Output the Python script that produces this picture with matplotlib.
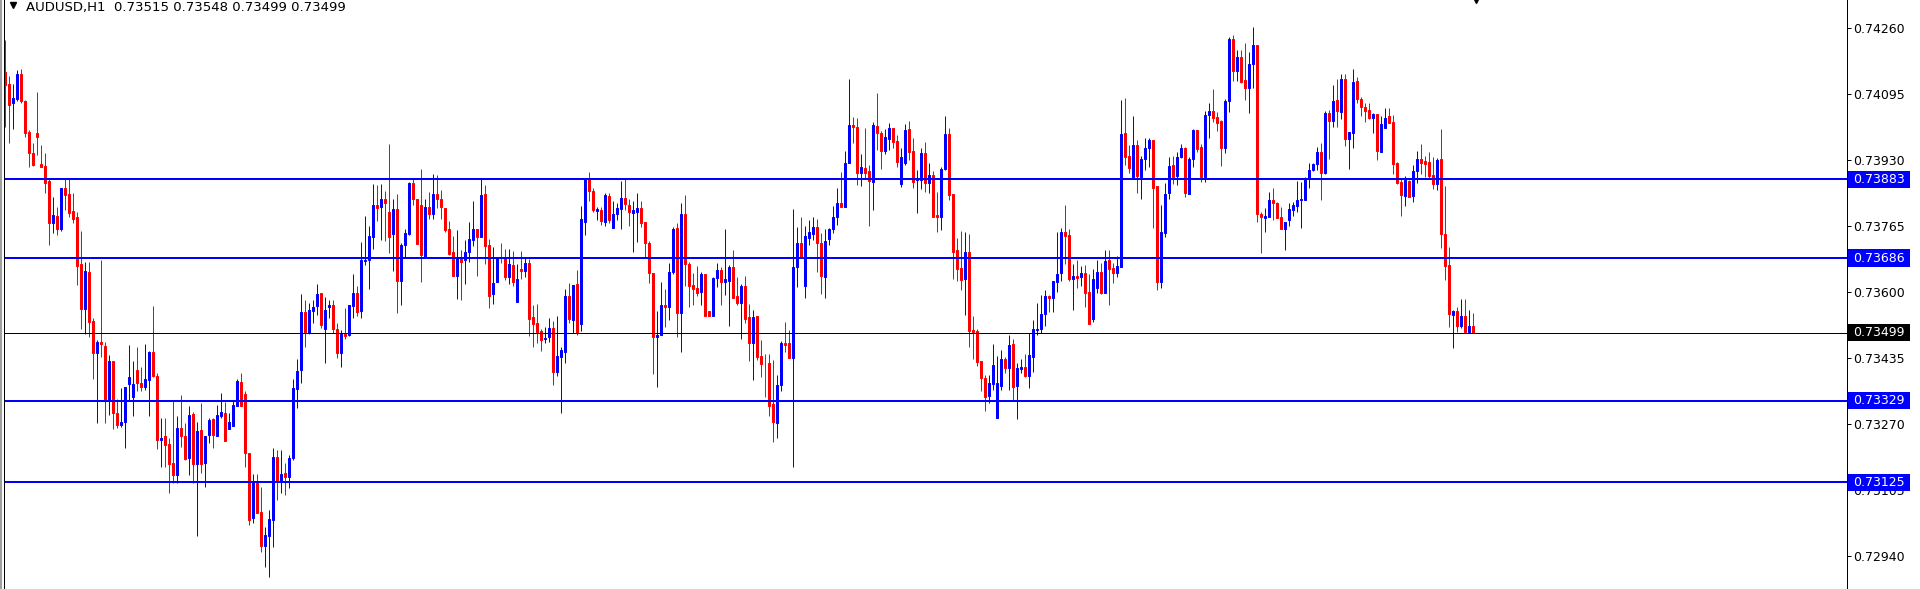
import numpy as np
import matplotlib
matplotlib.use('Agg')
import matplotlib.pyplot as plt
from matplotlib.lines import Line2D
from matplotlib.patches import Rectangle
from matplotlib.transforms import blended_transform_factory

symbol = 'AUDUSD,H1'

# hourly candles, oldest first
opens = [
    0.74151, 0.74121, 0.74074, 0.74084, 0.74146, 0.74079, 0.74001, 0.73949, 0.73999, 0.73921,
    0.73916, 0.73879, 0.73774, 0.73791, 0.73759, 0.73861, 0.73846, 0.73804, 0.73789, 0.73671,
    0.73559, 0.73651, 0.73529, 0.73449, 0.73476, 0.73466, 0.73329, 0.73429, 0.73299, 0.73269,
    0.73276, 0.73371, 0.73339, 0.73406, 0.73374, 0.73364, 0.73381, 0.73451, 0.73391, 0.73231,
    0.73241, 0.73221, 0.73174, 0.73144, 0.73261, 0.73241, 0.73186, 0.73296, 0.73171, 0.73256,
    0.73174, 0.73244, 0.73284, 0.73241, 0.73291, 0.73299, 0.73259, 0.73266, 0.73316, 0.73376,
    0.73346, 0.73199, 0.73036, 0.73126, 0.73051, 0.72966, 0.72991, 0.73031, 0.73189, 0.73126,
    0.73149, 0.73139, 0.73186, 0.73359, 0.73406, 0.73551, 0.73499, 0.73554, 0.73566, 0.73599,
    0.73509, 0.73564, 0.73569, 0.73509, 0.73449, 0.73496, 0.73494, 0.73566, 0.73599, 0.73554,
    0.73679, 0.73681, 0.73739, 0.73819, 0.73814, 0.73834, 0.73801, 0.73746, 0.73809, 0.73629,
    0.73719, 0.73746, 0.73874, 0.73834, 0.73819, 0.73689, 0.73814, 0.73796, 0.73846, 0.73834,
    0.73811, 0.73759, 0.73701, 0.73641, 0.73689, 0.73681, 0.73701, 0.73731, 0.73759, 0.73739,
    0.73846, 0.73719, 0.73596, 0.73626, 0.73687, 0.73689, 0.73639, 0.73669, 0.73576, 0.73659,
    0.73654, 0.73674, 0.73539, 0.73524, 0.73504, 0.73484, 0.73489, 0.73511, 0.73401, 0.73439,
    0.73451, 0.73591, 0.73531, 0.73621, 0.73521, 0.73776, 0.73886, 0.73854, 0.73804, 0.73806,
    0.73776, 0.73841, 0.73761, 0.73796, 0.73809, 0.73836, 0.73819, 0.73799, 0.73801, 0.73811,
    0.73776, 0.73724, 0.73649, 0.73489, 0.73494, 0.73569, 0.73564, 0.73651, 0.73761, 0.73549,
    0.73796, 0.73671, 0.73619, 0.73611, 0.73601, 0.73646, 0.73554, 0.73541, 0.73636, 0.73656,
    0.73626, 0.73629, 0.73664, 0.73591, 0.73574, 0.73616, 0.73539, 0.73474, 0.73541, 0.73441,
    0.73424, 0.73424, 0.73321, 0.73274, 0.73369, 0.73474, 0.73474, 0.73436, 0.73664, 0.73724,
    0.73616, 0.73736, 0.73746, 0.73764, 0.73724, 0.73639, 0.73734, 0.73759, 0.73789, 0.73824,
    0.73814, 0.73924, 0.74019, 0.74014, 0.73899, 0.73911, 0.73904, 0.73876, 0.74016, 0.73999,
    0.73954, 0.73984, 0.74011, 0.73979, 0.73871, 0.73924, 0.74009, 0.73954, 0.73881, 0.73881,
    0.73949, 0.73874, 0.73894, 0.73794, 0.73789, 0.73909, 0.73996, 0.73846, 0.73706, 0.73661,
    0.73634, 0.73701, 0.73506, 0.73504, 0.73429, 0.73386, 0.73341, 0.73371, 0.73286, 0.73366,
    0.73434, 0.73411, 0.73471, 0.73366, 0.73409, 0.73414, 0.73391, 0.73439, 0.73506, 0.73509,
    0.73546, 0.73591, 0.73586, 0.73626, 0.73649, 0.73751, 0.73744, 0.73634, 0.73641, 0.73639,
    0.73649, 0.73601, 0.73534, 0.73611, 0.73651, 0.73599, 0.73681, 0.73661, 0.73649, 0.73664,
    0.73999, 0.73941, 0.73889, 0.73969, 0.73889, 0.73934, 0.73961, 0.73981, 0.73866, 0.73626,
    0.73749, 0.73849, 0.73919, 0.73891, 0.73939, 0.73961, 0.73846, 0.73934, 0.74006, 0.73964,
    0.73889, 0.74044, 0.74054, 0.74039, 0.74029, 0.73961, 0.74079, 0.74234, 0.74154, 0.74189,
    0.74131, 0.74111, 0.74171, 0.74219, 0.73796, 0.73786, 0.73789, 0.73831, 0.73824, 0.73789,
    0.73759, 0.73781, 0.73806, 0.73816, 0.73831, 0.73831, 0.73886, 0.73906, 0.73921, 0.73951,
    0.73899, 0.74049, 0.74029, 0.74081, 0.74051, 0.74134, 0.73984, 0.73999, 0.74129, 0.74084,
    0.74064, 0.74056, 0.74036, 0.74046, 0.73951, 0.74011, 0.74041, 0.74026, 0.73924, 0.73876,
    0.73841, 0.73879, 0.73841, 0.73904, 0.73934, 0.73929, 0.73926, 0.73894, 0.73871, 0.73934,
    0.73746, 0.73669, 0.73544, 0.73554, 0.73516, 0.73541, 0.73501, 0.73515,
]
highs = [
    0.74231, 0.74141, 0.74121, 0.74156, 0.74159, 0.74081, 0.74006, 0.73974, 0.74101, 0.73969,
    0.73949, 0.73886, 0.73839, 0.73814, 0.73861, 0.73886, 0.73886, 0.73849, 0.73801, 0.73754,
    0.73676, 0.73676, 0.73536, 0.73481, 0.73681, 0.73476, 0.73444, 0.73429, 0.73334, 0.73361,
    0.73364, 0.73469, 0.73429, 0.73464, 0.73414, 0.73471, 0.73454, 0.73566, 0.73399, 0.73286,
    0.73286, 0.73236, 0.73331, 0.73291, 0.73344, 0.73274, 0.73316, 0.73301, 0.73276, 0.73324,
    0.73241, 0.73286, 0.73286, 0.73319, 0.73349, 0.73326, 0.73299, 0.73331, 0.73384, 0.73399,
    0.73354, 0.73199, 0.73146, 0.73146, 0.73114, 0.73014, 0.73056, 0.73211, 0.73206, 0.73206,
    0.73174, 0.73194, 0.73384, 0.73434, 0.73596, 0.73581, 0.73574, 0.73581, 0.73621, 0.73599,
    0.73589, 0.73581, 0.73581, 0.73524, 0.73506, 0.73561, 0.73569, 0.73646, 0.73616, 0.73726,
    0.73791, 0.73766, 0.73871, 0.73869, 0.73871, 0.73854, 0.73971, 0.73834, 0.73846, 0.73724,
    0.73759, 0.73876, 0.73886, 0.73834, 0.73909, 0.73834, 0.73851, 0.73896, 0.73894, 0.73856,
    0.73811, 0.73779, 0.73741, 0.73756, 0.73706, 0.73731, 0.73776, 0.73829, 0.73759, 0.73884,
    0.73869, 0.73734, 0.73714, 0.73689, 0.73724, 0.73709, 0.73709, 0.73704, 0.73671, 0.73704,
    0.73686, 0.73684, 0.73569, 0.73571, 0.73509, 0.73514, 0.73536, 0.73529, 0.73541, 0.73464,
    0.73609, 0.73624, 0.73619, 0.73656, 0.73816, 0.73884, 0.73901, 0.73861, 0.73814, 0.73814,
    0.73849, 0.73849, 0.73829, 0.73824, 0.73879, 0.73884, 0.73834, 0.73829, 0.73849, 0.73829,
    0.73776, 0.73729, 0.73649, 0.73554, 0.73626, 0.73609, 0.73674, 0.73764, 0.73774, 0.73824,
    0.73844, 0.73676, 0.73649, 0.73666, 0.73651, 0.73646, 0.73554, 0.73639, 0.73674, 0.73664,
    0.73759, 0.73669, 0.73706, 0.73639, 0.73621, 0.73641, 0.73571, 0.73556, 0.73541, 0.73481,
    0.73446, 0.73446, 0.73431, 0.73394, 0.73479, 0.73526, 0.73506, 0.73809, 0.73764, 0.73789,
    0.73766, 0.73781, 0.73789, 0.73784, 0.73749, 0.73759, 0.73761, 0.73816, 0.73861, 0.73901,
    0.73954, 0.74134, 0.74039, 0.74036, 0.73946, 0.74011, 0.73919, 0.74026, 0.74099, 0.74004,
    0.74009, 0.74024, 0.74011, 0.73994, 0.73961, 0.74021, 0.74029, 0.73986, 0.73906, 0.73961,
    0.73976, 0.73924, 0.73904, 0.73851, 0.73914, 0.74041, 0.74011, 0.73846, 0.73736, 0.73754,
    0.73751, 0.73746, 0.73541, 0.73509, 0.73429, 0.73394, 0.73394, 0.73471, 0.73441, 0.73456,
    0.73439, 0.73494, 0.73484, 0.73424, 0.73434, 0.73446, 0.73499, 0.73531, 0.73574, 0.73594,
    0.73606, 0.73594, 0.73629, 0.73751, 0.73761, 0.73819, 0.73759, 0.73671, 0.73681, 0.73666,
    0.73669, 0.73646, 0.73659, 0.73681, 0.73674, 0.73706, 0.73706, 0.73674, 0.73691, 0.74081,
    0.74086, 0.73969, 0.74041, 0.73981, 0.73941, 0.73986, 0.73986, 0.73981, 0.73866, 0.73819,
    0.73874, 0.73939, 0.73941, 0.73951, 0.73971, 0.73964, 0.73939, 0.74009, 0.74006, 0.73971,
    0.74054, 0.74074, 0.74109, 0.74051, 0.74031, 0.74084, 0.74239, 0.74244, 0.74206, 0.74206,
    0.74224, 0.74201, 0.74264, 0.74219, 0.73801, 0.73811, 0.73851, 0.73861, 0.73826, 0.73814,
    0.73776, 0.73824, 0.73826, 0.73879, 0.73876, 0.73889, 0.73924, 0.73924, 0.73964, 0.73974,
    0.74054, 0.74056, 0.74119, 0.74134, 0.74146, 0.74146, 0.74001, 0.74159, 0.74139, 0.74089,
    0.74074, 0.74074, 0.74049, 0.74046, 0.74041, 0.74061, 0.74061, 0.74044, 0.73926, 0.73884,
    0.73891, 0.73881, 0.73919, 0.73954, 0.73971, 0.73941, 0.73951, 0.73939, 0.73936, 0.74009,
    0.73866, 0.73714, 0.73556, 0.73564, 0.73584, 0.73584, 0.73556, 0.73548,
]
lows = [
    0.74014, 0.73974, 0.74009, 0.74079, 0.74074, 0.73989, 0.73914, 0.73916, 0.73944, 0.73914,
    0.73849, 0.73719, 0.73749, 0.73744, 0.73754, 0.73806, 0.73789, 0.73774, 0.73619, 0.73509,
    0.73496, 0.73489, 0.73384, 0.73274, 0.73439, 0.73274, 0.73294, 0.73259, 0.73261, 0.73264,
    0.73211, 0.73329, 0.73291, 0.73354, 0.73354, 0.73356, 0.73291, 0.73389, 0.73209, 0.73164,
    0.73164, 0.73099, 0.73124, 0.73124, 0.73214, 0.73181, 0.73144, 0.73124, 0.72991, 0.73149,
    0.73114, 0.73224, 0.73211, 0.73241, 0.73286, 0.73229, 0.73259, 0.73266, 0.73316, 0.73316,
    0.73164, 0.73019, 0.73024, 0.73049, 0.72951, 0.72914, 0.72889, 0.72964, 0.73081, 0.73099,
    0.73094, 0.73111, 0.73181, 0.73311, 0.73374, 0.73464, 0.73496, 0.73524, 0.73544, 0.73511,
    0.73424, 0.73536, 0.73499, 0.73436, 0.73414, 0.73484, 0.73491, 0.73536, 0.73541, 0.73536,
    0.73669, 0.73609, 0.73709, 0.73779, 0.73731, 0.73729, 0.73699, 0.73654, 0.73549, 0.73569,
    0.73689, 0.73744, 0.73819, 0.73721, 0.73626, 0.73689, 0.73784, 0.73784, 0.73811, 0.73784,
    0.73751, 0.73694, 0.73641, 0.73584, 0.73581, 0.73621, 0.73676, 0.73716, 0.73641, 0.73739,
    0.73671, 0.73561, 0.73571, 0.73626, 0.73674, 0.73631, 0.73621, 0.73616, 0.73576, 0.73634,
    0.73639, 0.73491, 0.73464, 0.73474, 0.73454, 0.73474, 0.73476, 0.73369, 0.73391, 0.73299,
    0.73424, 0.73524, 0.73499, 0.73494, 0.73504, 0.73744, 0.73829, 0.73801, 0.73781, 0.73769,
    0.73766, 0.73774, 0.73761, 0.73781, 0.73759, 0.73806, 0.73766, 0.73701, 0.73726, 0.73764,
    0.73686, 0.73624, 0.73396, 0.73364, 0.73494, 0.73514, 0.73531, 0.73646, 0.73489, 0.73451,
    0.73616, 0.73564, 0.73569, 0.73591, 0.73569, 0.73541, 0.73541, 0.73541, 0.73614, 0.73569,
    0.73594, 0.73516, 0.73586, 0.73569, 0.73484, 0.73524, 0.73429, 0.73381, 0.73431, 0.73389,
    0.73339, 0.73291, 0.73226, 0.73236, 0.73354, 0.73451, 0.73436, 0.73164, 0.73614, 0.73689,
    0.73586, 0.73719, 0.73731, 0.73651, 0.73596, 0.73586, 0.73719, 0.73749, 0.73769, 0.73814,
    0.73814, 0.73924, 0.73974, 0.73869, 0.73866, 0.73886, 0.73766, 0.73806, 0.73956, 0.73909,
    0.73946, 0.73956, 0.73961, 0.73914, 0.73864, 0.73919, 0.73931, 0.73861, 0.73799, 0.73859,
    0.73851, 0.73849, 0.73789, 0.73751, 0.73756, 0.73906, 0.73831, 0.73634, 0.73629, 0.73606,
    0.73544, 0.73464, 0.73434, 0.73416, 0.73354, 0.73304, 0.73324, 0.73356, 0.73286, 0.73356,
    0.73399, 0.73356, 0.73329, 0.73284, 0.73399, 0.73389, 0.73361, 0.73401, 0.73494, 0.73499,
    0.73516, 0.73551, 0.73551, 0.73601, 0.73629, 0.73671, 0.73629, 0.73556, 0.73611, 0.73616,
    0.73564, 0.73521, 0.73526, 0.73599, 0.73596, 0.73599, 0.73569, 0.73624, 0.73639, 0.73664,
    0.73919, 0.73899, 0.73889, 0.73849, 0.73834, 0.73906, 0.73914, 0.73761, 0.73606, 0.73611,
    0.73739, 0.73834, 0.73871, 0.73869, 0.73936, 0.73839, 0.73846, 0.73914, 0.73951, 0.73876,
    0.73876, 0.73986, 0.74026, 0.74004, 0.73916, 0.73949, 0.74051, 0.74129, 0.74129, 0.74124,
    0.74081, 0.74049, 0.74111, 0.73776, 0.73699, 0.73751, 0.73789, 0.73781, 0.73786, 0.73759,
    0.73706, 0.73766, 0.73791, 0.73801, 0.73761, 0.73831, 0.73861, 0.73904, 0.73906, 0.73831,
    0.73896, 0.73934, 0.74014, 0.74014, 0.74034, 0.73966, 0.73909, 0.73961, 0.74074, 0.74041,
    0.74026, 0.74034, 0.73999, 0.73931, 0.73951, 0.74011, 0.74024, 0.73896, 0.73871, 0.73791,
    0.73816, 0.73839, 0.73826, 0.73874, 0.73896, 0.73889, 0.73884, 0.73859, 0.73856, 0.73711,
    0.73631, 0.73514, 0.73461, 0.73501, 0.73511, 0.73501, 0.73499, 0.73499,
]
closes = [
    0.74119, 0.74069, 0.74086, 0.74146, 0.74079, 0.73999, 0.73949, 0.73919, 0.73989, 0.73914,
    0.73874, 0.73774, 0.73794, 0.73759, 0.73861, 0.73844, 0.73799, 0.73784, 0.73666, 0.73559,
    0.73654, 0.73526, 0.73449, 0.73476, 0.73471, 0.73329, 0.73429, 0.73299, 0.73269, 0.73276,
    0.73364, 0.73389, 0.73371, 0.73374, 0.73364, 0.73384, 0.73451, 0.73391, 0.73231, 0.73236,
    0.73219, 0.73171, 0.73144, 0.73261, 0.73241, 0.73184, 0.73294, 0.73171, 0.73254, 0.73171,
    0.73241, 0.73281, 0.73244, 0.73294, 0.73301, 0.73229, 0.73276, 0.73319, 0.73379, 0.73316,
    0.73199, 0.73031, 0.73126, 0.73049, 0.72966, 0.72994, 0.73034, 0.73189, 0.73126, 0.73146,
    0.73139, 0.73186, 0.73361, 0.73404, 0.73551, 0.73499, 0.73556, 0.73564, 0.73596, 0.73519,
    0.73556, 0.73569, 0.73509, 0.73449, 0.73496, 0.73491, 0.73569, 0.73599, 0.73551, 0.73681,
    0.73681, 0.73741, 0.73819, 0.73811, 0.73834, 0.73824, 0.73739, 0.73809, 0.73629, 0.73719,
    0.73749, 0.73874, 0.73834, 0.73721, 0.73694, 0.73814, 0.73796, 0.73846, 0.73834, 0.73814,
    0.73756, 0.73696, 0.73641, 0.73689, 0.73676, 0.73701, 0.73734, 0.73759, 0.73739, 0.73844,
    0.73716, 0.73591, 0.73624, 0.73686, 0.73687, 0.73639, 0.73671, 0.73626, 0.73634, 0.73654,
    0.73674, 0.73534, 0.73521, 0.73501, 0.73481, 0.73486, 0.73511, 0.73401, 0.73441, 0.73456,
    0.73591, 0.73534, 0.73619, 0.73499, 0.73784, 0.73884, 0.73854, 0.73806, 0.73809, 0.73779,
    0.73844, 0.73781, 0.73796, 0.73811, 0.73836, 0.73821, 0.73801, 0.73806, 0.73811, 0.73774,
    0.73724, 0.73649, 0.73489, 0.73494, 0.73569, 0.73564, 0.73651, 0.73759, 0.73549, 0.73796,
    0.73671, 0.73616, 0.73609, 0.73599, 0.73646, 0.73541, 0.73541, 0.73636, 0.73656, 0.73626,
    0.73634, 0.73664, 0.73586, 0.73574, 0.73616, 0.73534, 0.73474, 0.73539, 0.73439, 0.73421,
    0.73424, 0.73316, 0.73276, 0.73369, 0.73474, 0.73469, 0.73436, 0.73664, 0.73724, 0.73689,
    0.73741, 0.73751, 0.73764, 0.73724, 0.73641, 0.73729, 0.73759, 0.73789, 0.73824, 0.73814,
    0.73924, 0.74019, 0.74014, 0.73899, 0.73914, 0.73899, 0.73879, 0.74019, 0.73999, 0.73954,
    0.73989, 0.74011, 0.73976, 0.73926, 0.73939, 0.74006, 0.73951, 0.73876, 0.73884, 0.73949,
    0.73874, 0.73894, 0.73789, 0.73789, 0.73909, 0.73996, 0.73844, 0.73701, 0.73659, 0.73631,
    0.73701, 0.73504, 0.73501, 0.73426, 0.73386, 0.73339, 0.73374, 0.73419, 0.73374, 0.73434,
    0.73411, 0.73469, 0.73364, 0.73411, 0.73414, 0.73391, 0.73444, 0.73509, 0.73509, 0.73546,
    0.73591, 0.73586, 0.73629, 0.73646, 0.73751, 0.73741, 0.73634, 0.73641, 0.73636, 0.73649,
    0.73599, 0.73521, 0.73634, 0.73651, 0.73599, 0.73679, 0.73659, 0.73649, 0.73666, 0.73996,
    0.73939, 0.73911, 0.73969, 0.73891, 0.73934, 0.73961, 0.73981, 0.73861, 0.73626, 0.73751,
    0.73846, 0.73916, 0.73889, 0.73939, 0.73961, 0.73849, 0.73934, 0.74006, 0.73959, 0.73889,
    0.74044, 0.74054, 0.74036, 0.74024, 0.73961, 0.74079, 0.74234, 0.74154, 0.74189, 0.74126,
    0.74111, 0.74171, 0.74219, 0.73796, 0.73789, 0.73791, 0.73831, 0.73824, 0.73786, 0.73759,
    0.73776, 0.73809, 0.73819, 0.73831, 0.73834, 0.73886, 0.73906, 0.73921, 0.73951, 0.73899,
    0.74049, 0.74029, 0.74079, 0.74054, 0.74134, 0.73984, 0.74001, 0.74126, 0.74084, 0.74064,
    0.74054, 0.74036, 0.74046, 0.73954, 0.74021, 0.74036, 0.74024, 0.73921, 0.73874, 0.73844,
    0.73881, 0.73839, 0.73904, 0.73934, 0.73924, 0.73921, 0.73891, 0.73871, 0.73931, 0.73746,
    0.73666, 0.73546, 0.73554, 0.73516, 0.73541, 0.73501, 0.73516, 0.73499,
]

levels = [0.73883, 0.73686, 0.73329, 0.73125]   # drawn support / resistance lines
price_ticks = [0.74260, 0.74095, 0.73930, 0.73765, 0.73600, 0.73435, 0.73270, 0.73105, 0.72940]

o = np.array(opens)
h = np.array(highs)
l = np.array(lows)
c = np.array(closes)
x = np.arange(len(c))
up = c > o
dn = c < o
flat = c == o

BULL = '#0000ff'
BEAR = '#ff0000'
DOJI = '#a020a0'
PX = 0.72  # one pixel, in points

W, H = 1920, 589
fig = plt.figure(figsize=(W / 100, H / 100), dpi=100)
ax = fig.add_axes([4 / W, 0, 1843 / W, 1])
ax.set_xlim(-0.325, 460.425)
ax.set_ylim(0.728585, 0.74331)

# wicks
ax.vlines(x[up], l[up], h[up], colors=BULL, linewidth=PX)
ax.vlines(x[dn], l[dn], h[dn], colors=BEAR, linewidth=PX)
ax.vlines(x[flat], l[flat], h[flat], colors=DOJI, linewidth=PX)

# bodies
ax.bar(x[up], (c - o)[up], bottom=o[up], width=0.5, color=BULL,
       edgecolor=BULL, linewidth=PX)
ax.bar(x[dn], (o - c)[dn], bottom=c[dn], width=0.5, color=BEAR,
       edgecolor=BEAR, linewidth=PX)

# horizontal levels and bid line
for lv in levels:
    ax.axhline(lv, color='#0000ff', linewidth=2 * PX)
ax.axhline(c[-1], color='black', linewidth=PX)

ax.yaxis.tick_right()
ax.set_yticks(price_ticks)
ax.set_yticklabels([f'{t:.5f}' for t in price_ticks])
ax.tick_params(axis='y', direction='out', length=3, width=PX, pad=1.5,
               labelsize=9, colors='black')
ax.set_xticks([])
for side in ['top', 'bottom']:
    ax.spines[side].set_visible(False)
for side in ['left', 'right']:
    ax.spines[side].set_linewidth(PX)

# price labels on the axis
tr = blended_transform_factory(ax.transAxes, ax.transData)
box_w = 62 / 1843
box_h = 17 / 40000
for lv, col in [(v, '#0000ff') for v in levels] + [(c[-1], 'black')]:
    ax.add_patch(Rectangle((1 + 1 / 1843, lv - box_h / 2), box_w, box_h,
                           transform=tr, facecolor=col, edgecolor='none',
                           clip_on=False, zorder=5))
    ax.text(1 + 6 / 1843, lv, f'{lv:.5f}', transform=tr, color='white',
            fontsize=9, ha='left', va='center', clip_on=False, zorder=6)

# header
header = f'{symbol}  {o[-1]:.5f} {h[-1]:.5f} {l[-1]:.5f} {c[-1]:.5f}'
fig.text(26 / W, 1 - 7 / H, header, fontsize=9.5, ha='left', va='center')
fig.add_artist(Line2D([12.5 / W], [1 - 5 / H], marker='v', markersize=5,
                      color='black', linestyle='none'))
fig.add_artist(Line2D([1 / W, 1 / W], [0, 1], color='#a0a0a0', linewidth=1.5))

# chart shift marker
ax.plot([x[-1] + 0.6], [0.74331], marker='v', markersize=5, color='black',
        clip_on=False, linestyle='none')

fig.savefig('out.png', dpi=100)
